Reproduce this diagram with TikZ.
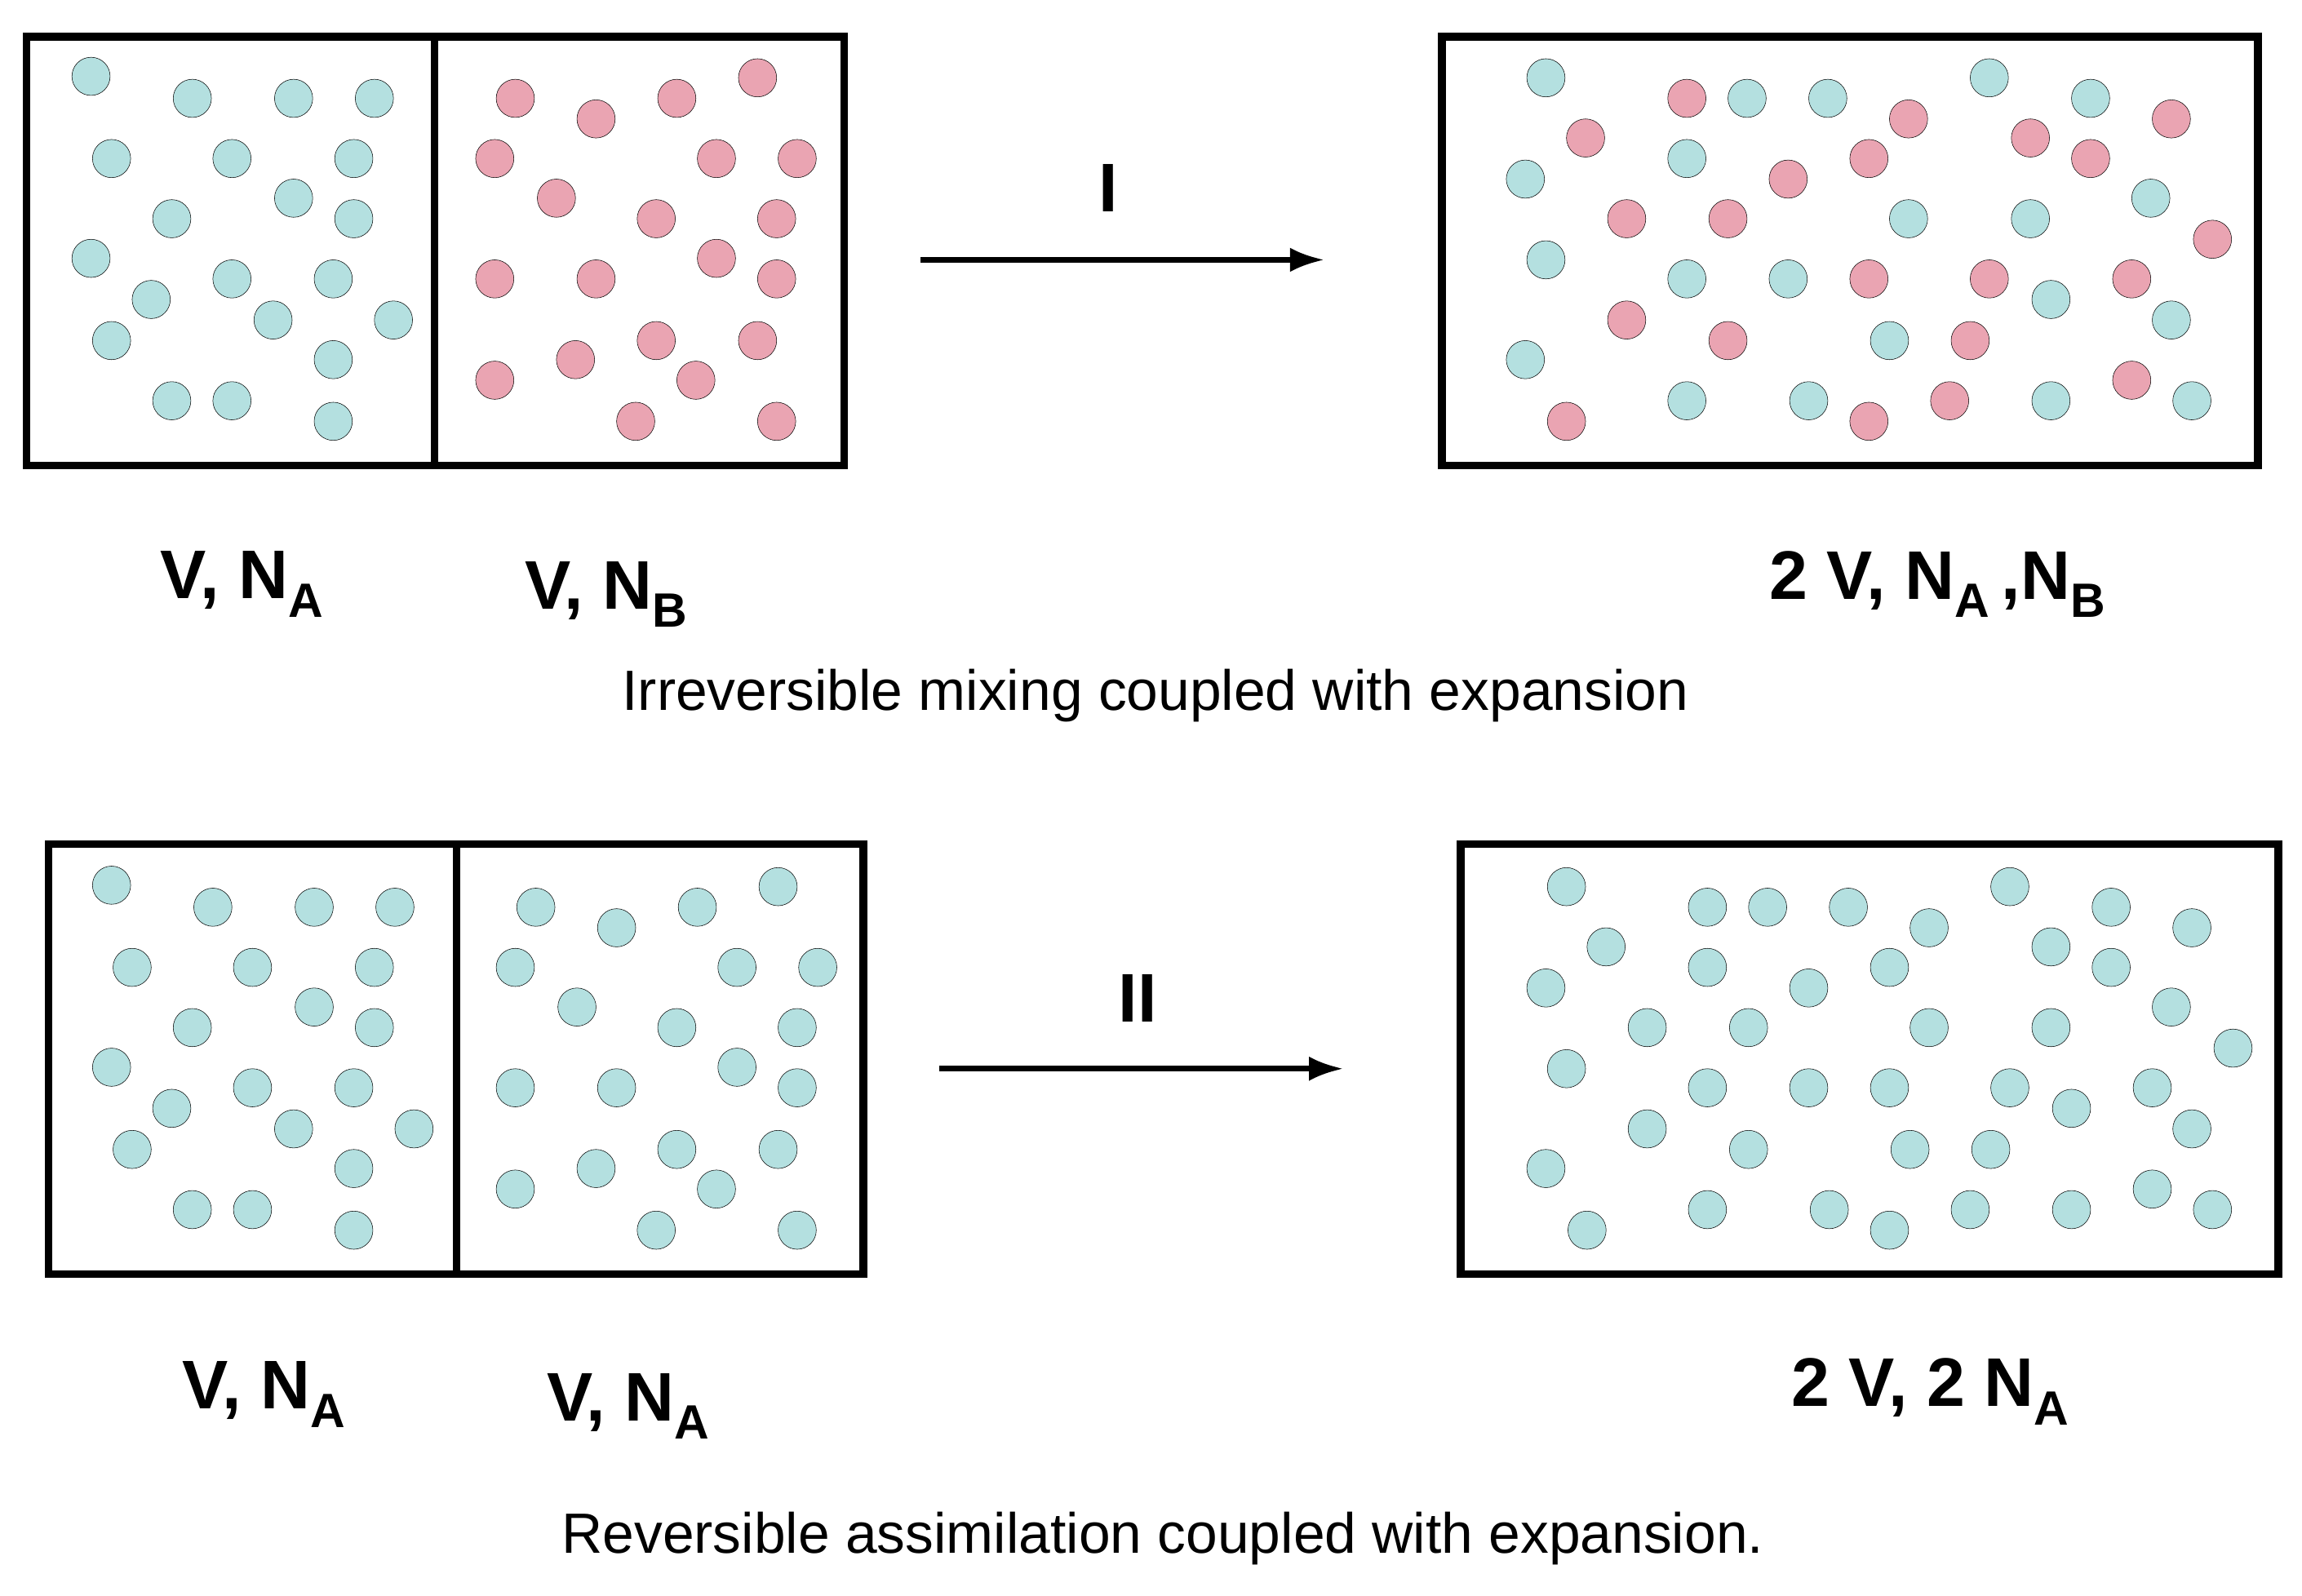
\documentclass[tikz,border=0pt]{standalone}
\usepackage{fontspec}
\setmainfont{Liberation Sans}
\usetikzlibrary{arrows.meta}
\definecolor{cblue}{RGB}{180,224,224}
\definecolor{cpink}{RGB}{234,164,178}
\begin{document}
\begin{tikzpicture}[x=0.3mm,y=-0.3mm,
  box/.style={draw=black,line width=1.6mm},
  mol/.style={draw=black,line width=0.25pt},
  arr/.style={line width=1.1mm,-{Latex[length=7mm,width=5mm]}},
  lab/.style={font=\fontsize{40}{48}\selectfont\bfseries},
  captxt/.style={font=\fontsize{33}{40}\selectfont}]
\useasboundingbox (0,0) rectangle (1568,1087);
\def\LA{62/52,131/67,200/67,255/67,76/108,158/108,241/108,117/149,200/135,241/149,62/176,158/190,227/190,103/204,186/218,268/218,76/232,227/245,117/273,158/273,227/287}
\def\LB{351/67,406/81,461/67,516/53,337/108,488/108,543/108,379/135,447/149,529/149,337/190,406/190,488/176,529/190,447/232,516/232,392/245,337/259,474/259,433/287,529/287}
\def\RA{1053/53,1190/67,1245/67,1355/53,1424/67,1149/108,1039/122,1300/149,1383/149,1465/135,1053/177,1149/190,1218/190,1397/204,1479/218,1287/232,1039/245,1149/273,1232/273,1397/273,1493/273}
\def\RB{1149/67,1300/81,1479/81,1080/94,1273/108,1383/94,1424/108,1218/122,1108/149,1177/149,1507/163,1273/190,1355/190,1452/190,1108/218,1177/232,1342/232,1067/287,1273/287,1328/273,1452/259}
% ---- top
\draw[box] (18,25) rectangle (575,317);
\draw[box] (296,25) -- (296,317);
\foreach \x/\y in \LA {\draw[mol,fill=cblue] (\x,\y) circle (13);}
\foreach \x/\y in \LB {\draw[mol,fill=cpink] (\x,\y) circle (13);}
\draw[box] (982,25) rectangle (1538,317);
\foreach \x/\y in \RA {\draw[mol,fill=cblue] (\x,\y) circle (13);}
\foreach \x/\y in \RB {\draw[mol,fill=cpink] (\x,\y) circle (13);}
\coordinate (a1) at (627,177); \coordinate (b1) at (902,177);
\draw[arr] (a1) -- (b1);
\node[lab] (t1) at (755,128) {I};
\node[lab] (l1) at (165,398) {V, N$_{\mathbf A}$};
\node[lab] (l2) at (413,405) {V, N$_{\mathbf B}$};
\node[lab] (l3) at (1320,398) {2 V, N$_{\mathbf A}$\,,N$_{\mathbf B}$};
\node[captxt] (c1) at (787,474) {Irreversible mixing coupled with expansion};
% ---- bottom
\begin{scope}[shift={(14,551)}]
\draw[box] (19,24) rectangle (574,317);
\draw[box] (297,24) -- (297,317);
\foreach \x/\y in \LA {\draw[mol,fill=cblue] (\x,\y) circle (13);}
\foreach \x/\y in \LB {\draw[mol,fill=cblue] (\x,\y) circle (13);}
\end{scope}
\begin{scope}[shift={(14,551)}]
\draw[box] (981,24) rectangle (1538,317);
\foreach \x/\y in \RA {\draw[mol,fill=cblue] (\x,\y) circle (13);}
\foreach \x/\y in \RB {\draw[mol,fill=cblue] (\x,\y) circle (13);}
\end{scope}
\coordinate (a2) at (640,728); \coordinate (b2) at (915,728);
\draw[arr] (a2) -- (b2);
\node[lab] (t2) at (775,680) {II};
\node[lab] (l4) at (180,950) {V, N$_{\mathbf A}$};
\node[lab] (l5) at (428,958) {V, N$_{\mathbf A}$};
\node[lab] (l6) at (1315,948) {2 V, 2 N$_{\mathbf A}$};
\node[captxt] (c2) at (792,1048) {Reversible assimilation coupled with expansion.};
\end{tikzpicture}
\end{document}
